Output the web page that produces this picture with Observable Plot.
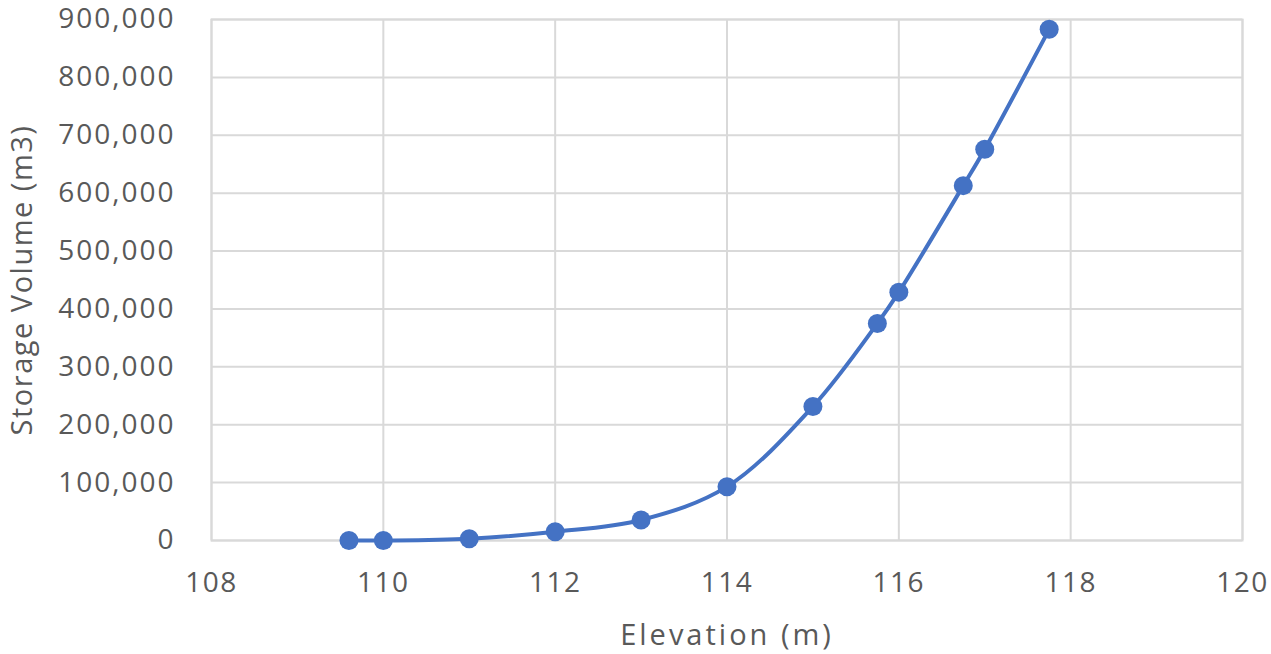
<!DOCTYPE html>
<html>
<head>
<meta charset="utf-8">
<script src="https://cdn.jsdelivr.net/npm/d3@7"></script>
<script src="https://cdn.jsdelivr.net/npm/@observablehq/plot@0.6"></script>
<style>
  html, body { margin: 0; padding: 0; background: #fff; }
  #chart g[aria-label="x-axis tick label"] text { letter-spacing: 1.5px; }
  #chart g[aria-label="y-axis tick label"] text { letter-spacing: 2px; }
  #chart g[aria-label="x-axis label"] text { letter-spacing: 3px; }
  #chart g[aria-label="y-axis label"] text { letter-spacing: 1.5px; }
</style>
</head>
<body>
<div id="chart"></div>
<script>
const elevation = [109.6, 110, 111, 112, 113, 114, 115, 115.75, 116, 116.75, 117, 117.75];
const volume = [0, 0, 3000, 15000, 35500, 93000, 231500, 375000, 429000, 613000, 676000, 883000];
const xTicks = [108, 110, 112, 114, 116, 118, 120];
const yTicks = [0, 100000, 200000, 300000, 400000, 500000, 600000, 700000, 800000, 900000];

const data = elevation.map((e, i) => ({elevation: e, volume: volume[i]}));
const fmt = d3.format(",");
const gridColor = "#d9d9d9";
const textColor = "#595959";

const chart = Plot.plot({
  width: 1271,
  height: 654,
  marginLeft: 211,
  marginRight: 29,
  marginTop: 19,
  marginBottom: 114,
  style: {fontFamily: "'Open Sans', 'Noto Sans', sans-serif", fontSize: "28px", color: textColor, background: "#fff"},
  x: {domain: [108, 120]},
  y: {domain: [0, 900000]},
  marks: [
    Plot.gridX(xTicks, {stroke: gridColor, strokeOpacity: 1, strokeWidth: 2}),
    Plot.gridY(yTicks, {stroke: gridColor, strokeOpacity: 1, strokeWidth: 2}),
    Plot.frame({stroke: gridColor, strokeWidth: 2}),
    Plot.axisX(xTicks, {tickSize: 0, tickPadding: 32, fontSize: 28, fill: textColor,
      label: null}),
    Plot.axisX({tickSize: 0, ticks: [], fontSize: 29, fill: textColor,
      label: "Elevation (m)", labelAnchor: "center", labelArrow: "none", labelOffset: 104}),
    Plot.axisY(yTicks, {tickSize: 0, tickPadding: 36, fontSize: 28, fill: textColor, tickFormat: fmt,
      label: null}),
    Plot.axisY({tickSize: 0, ticks: [], fontSize: 29, fill: textColor,
      label: "Storage Volume (m3)", labelAnchor: "center", labelArrow: "none", labelOffset: 200}),
    Plot.line(data, {x: "elevation", y: "volume", stroke: "#4472C4", strokeWidth: 4, curve: "catmull-rom"}),
    Plot.dot(data, {x: "elevation", y: "volume", fill: "#4472C4", r: 9.5})
  ]
});
document.getElementById("chart").appendChild(chart);
</script>
</body>
</html>
